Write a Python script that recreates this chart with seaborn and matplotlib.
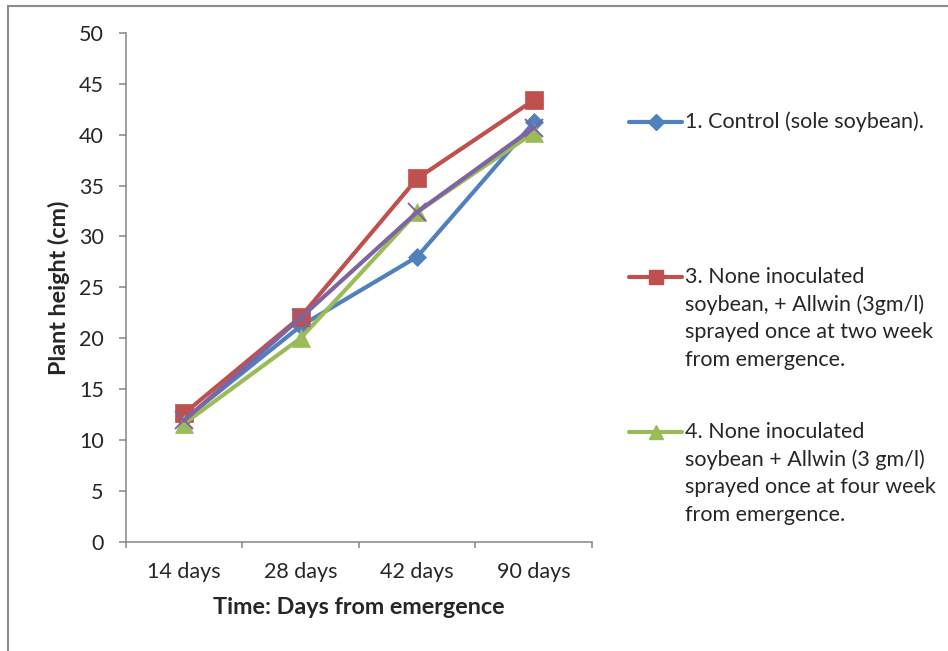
import matplotlib
matplotlib.use("Agg")
import matplotlib.pyplot as plt
import seaborn as sns
import pandas as pd
from matplotlib.lines import Line2D

# ---- data ----
categories = ["14 days", "28 days", "42 days", "90 days"]
control = [12.0, 21.2, 28.0, 41.2]
allwin_two_week = [12.6, 22.1, 35.7, 43.4]
allwin_four_week = [11.6, 20.0, 32.4, 40.2]
unlabeled_series = [11.9, 22.0, 32.4, 40.7]
y_ticks = [0, 5, 10, 15, 20, 25, 30, 35, 40, 45, 50]
legend_labels = [
    "1. Control (sole soybean).",
    "3. None inoculated\nsoybean, + Allwin (3gm/l)\nsprayed once at two week\nfrom emergence.",
    "4. None inoculated\nsoybean + Allwin (3 gm/l)\nsprayed once at four week\nfrom emergence.",
]
x_label = "Time: Days from emergence"
y_label = "Plant height (cm)"

# ---- style ----
sns.set_style("white")
plt.rcParams["font.family"] = ["Lato", "DejaVu Sans"]

W, H = 948, 651
fig = plt.figure(figsize=(W / 100, H / 100), dpi=100)

def fx(x):
    return x / W

def fy(y):
    return 1 - y / H

ax_l, ax_r, ax_t, ax_b = 126, 592, 33, 541.5
ax = fig.add_axes([fx(ax_l), fy(ax_b), (ax_r - ax_l) / W, (ax_b - ax_t) / H])

blue, red, green, purple = "#4F81BD", "#C0504D", "#9BBB59", "#8064A2"
series = [
    (control, blue, "D", 9.5, 0.5),
    (allwin_two_week, red, "s", 12.5, 0.5),
    (allwin_four_week, green, "^", 12.5, 0.5),
    (unlabeled_series, purple, "x", 12.5, 1.4),
]
for vals, col, mk, ms, mew in series:
    df = pd.DataFrame({"time": categories, "height": vals})
    sns.lineplot(data=df, x="time", y="height", ax=ax, color=col, marker=mk,
                 markersize=ms, markeredgewidth=mew, markeredgecolor=col,
                 linewidth=3, sort=False, legend=False)

ax.set_xlim(-0.5, len(categories) - 0.5)
ax.set_ylim(0, 50)
ax.set_yticks(y_ticks)
ax.set_yticklabels([str(t) for t in y_ticks])
ax.set_xticks(range(len(categories)))
ax.set_xticklabels(categories)
ax.set_xticks([i - 0.5 for i in range(len(categories) + 1)], minor=True)

spine_col = "#868686"
for s in ["top", "right"]:
    ax.spines[s].set_visible(False)
for s in ["left", "bottom"]:
    ax.spines[s].set_color(spine_col)
    ax.spines[s].set_linewidth(1.1)

tick_fs = 15.5
ax.tick_params(axis="y", which="major", direction="out", length=5, width=1.1,
               color=spine_col, pad=11, labelsize=tick_fs, left=True)
ax.tick_params(axis="x", which="major", length=0, pad=15, labelsize=tick_fs)
ax.tick_params(axis="x", which="minor", direction="out", length=4, width=1.1,
               color=spine_col, bottom=True)
ax.set_xlabel("")
ax.set_ylabel("")

fig.text(fx(359), fy(607), x_label, ha="center", va="center",
         fontsize=16.8, fontweight="bold")
fig.text(fx(59), fy(287.5), y_label, ha="center", va="center", rotation=90,
         fontsize=16.8, fontweight="bold")

# ---- legend (Excel-style, handle aligned to first line) ----
leg_y = [122, 277, 432]
line_gap = 27.7
handles = [(blue, "D", 9.5), (red, "s", 12.5), (green, "^", 12.5)]
for (col, mk, ms), lab, y0 in zip(handles, legend_labels, leg_y):
    fig.add_artist(Line2D([fx(629), fx(682)], [fy(y0), fy(y0)],
                          transform=fig.transFigure, color=col, linewidth=3,
                          solid_capstyle="round"))
    fig.add_artist(Line2D([fx(655.5)], [fy(y0)], transform=fig.transFigure,
                          color=col, marker=mk, markersize=ms * 0.85,
                          markeredgecolor=col, linestyle="none"))
    for i, line in enumerate(lab.split("\n")):
        fig.text(fx(685), fy(y0 + i * line_gap), line, ha="left", va="center",
                 fontsize=tick_fs)

# ---- outer frame ----
frame_col = "#8a8a8a"
fig.add_artist(Line2D([fx(8), fx(8)], [fy(6), 0], transform=fig.transFigure,
                      color=frame_col, linewidth=1.5))
fig.add_artist(Line2D([fx(8), 1], [fy(6), fy(6)], transform=fig.transFigure,
                      color=frame_col, linewidth=1.5))

fig.savefig("out.png", dpi=100)
